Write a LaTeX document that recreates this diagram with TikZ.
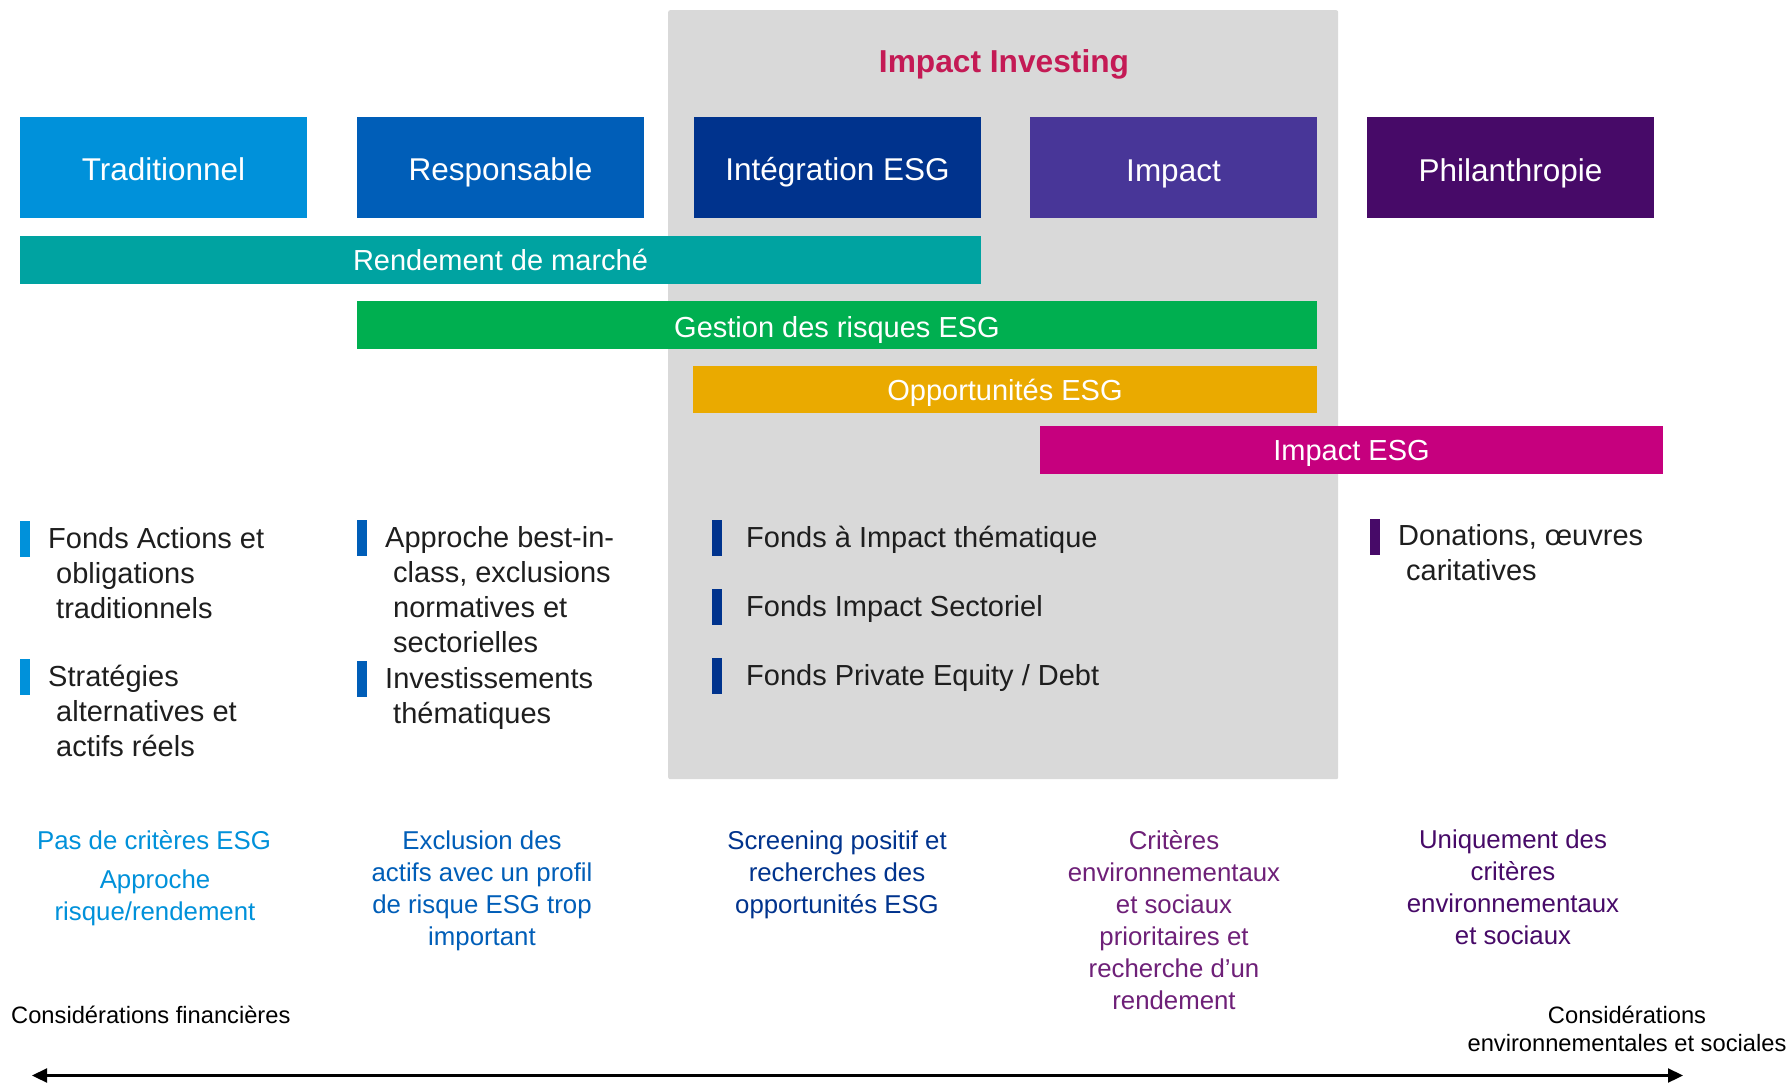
\documentclass[tikz,border=0pt]{standalone}
\usepackage{fontspec}
\setmainfont{Liberation Sans}
\usetikzlibrary{arrows.meta}
\definecolor{cTrad}{HTML}{0091DA}
\definecolor{cResp}{HTML}{005EB8}
\definecolor{cInteg}{HTML}{00338D}
\definecolor{cImpact}{HTML}{483698}
\definecolor{cPhil}{HTML}{470A68}
\definecolor{cRend}{HTML}{00A3A1}
\definecolor{cGest}{HTML}{00AF50}
\definecolor{cOpp}{HTML}{EAAA00}
\definecolor{cImpESG}{HTML}{C6007E}
\definecolor{cTitle}{HTML}{C41A55}
\definecolor{cPanel}{HTML}{D9D9D9}
\definecolor{cCrit}{HTML}{6E2078}
\definecolor{cTxt}{HTML}{1E1E1E}
\begin{document}
\begin{tikzpicture}[x=1pt,y=-1pt,
  catbox/.style={minimum width=287pt, minimum height=101pt, inner sep=0pt, text=white,
    font=\fontsize{31.5}{36}\selectfont, text height=27pt, text depth=0pt},
  bar/.style={minimum height=48pt, inner sep=0pt, text=white,
    font=\fontsize{29}{34}\selectfont, text height=20.8pt, text depth=0pt},
  bul/.style={minimum width=10pt, minimum height=36pt, inner sep=0pt},
  item/.style={anchor=base west, inner sep=0pt, text=cTxt, font=\fontsize{29}{35}\selectfont},
  crit/.style={anchor=base, inner sep=0pt, font=\fontsize{25.8}{32}\selectfont},
  axis/.style={anchor=base, inner sep=0pt, text=black, font=\fontsize{23.7}{28}\selectfont}
]
\useasboundingbox (0,0) rectangle (1791,1083);
\fill[white] (0,0) rectangle (1791,1083);

% panel
\node[fill=cPanel, anchor=north west, minimum width=670pt, minimum height=769pt, inner sep=0pt, rounded corners=2pt] (panel) at (668,10) {};
\node[anchor=base, inner sep=0pt, text=cTitle, font=\fontsize{31.7}{36}\selectfont\bfseries] (title) at (1004,72.5) {Impact Investing};

% category boxes
\node[catbox, fill=cTrad]   (trad)   at (163.5,167.5) {Traditionnel};
\node[catbox, fill=cResp]   (resp)   at (500.5,167.5) {Responsable};
\node[catbox, fill=cInteg]  (integ)  at (837.5,167.5) {Intégration ESG};
\node[catbox, fill=cImpact] (impact) at (1173.5,168) {Impact};
\node[catbox, fill=cPhil]   (phil)   at (1510.5,168) {Philanthropie};

% bars
\node[bar, fill=cRend,   minimum width=961pt] (rend)   at (500.5,260) {Rendement de marché};
\node[bar, fill=cGest,   minimum width=960pt, text height=24.5pt] (gest) at (837,325) {Gestion des risques ESG};
\node[bar, fill=cOpp,    minimum width=624pt, minimum height=47pt, text height=22.5pt] (opp) at (1005,389.5) {Opportunités ESG};
\node[bar, fill=cImpESG, minimum width=623pt] (impesg) at (1351.5,450) {Impact ESG};

% bullets
\node[bul, fill=cTrad] (bt1) at (25,539) {};
\node[item] (t1) at (56,548) {\begin{tabular}[t]{@{}l@{}}\hspace*{-8pt}Fonds Actions et\\obligations\\traditionnels\end{tabular}};
\node[bul, fill=cTrad] (bt2) at (25,677) {};
\node[item] (t2) at (56,686) {\begin{tabular}[t]{@{}l@{}}\hspace*{-8pt}Stratégies\\alternatives et\\actifs réels\end{tabular}};

\node[bul, fill=cResp] (br1) at (362,538) {};
\node[item] (r1) at (393,547) {\begin{tabular}[t]{@{}l@{}}\hspace*{-8pt}Approche best-in-\\class, exclusions\\normatives et\\sectorielles\end{tabular}};
\node[bul, fill=cResp] (br2) at (362,679) {};
\node[item] (r2) at (393,688) {\begin{tabular}[t]{@{}l@{}}\hspace*{-8pt}Investissements\\thématiques\end{tabular}};

\node[bul, fill=cInteg] (bi1) at (717,538) {};
\node[item] (i1) at (746,547) {Fonds à Impact thématique};
\node[bul, fill=cInteg] (bi2) at (717,607) {};
\node[item] (i2) at (746,616) {Fonds Impact Sectoriel};
\node[bul, fill=cInteg] (bi3) at (717,676) {};
\node[item] (i3) at (746,685) {Fonds Private Equity / Debt};

\node[bul, fill=cPhil] (bp1) at (1375,536.5) {};
\node[item] (p1) at (1406,545) {\begin{tabular}[t]{@{}l@{}}\hspace*{-8pt}Donations, œuvres\\caritatives\end{tabular}};

% criteria
\node[crit, text=cTrad] (c1a) at (154,849) {Pas de critères ESG};
\node[crit, text=cTrad] (c1b) at (155,888) {\begin{tabular}[t]{@{}c@{}}Approche\\risque/rendement\end{tabular}};
\node[crit, text=cResp] (c2) at (482,849) {\begin{tabular}[t]{@{}c@{}}Exclusion des\\actifs avec un profil\\de risque ESG trop\\important\end{tabular}};
\node[crit, text=cInteg] (c3) at (837,849) {\begin{tabular}[t]{@{}c@{}}Screening positif et\\recherches des\\opportunités ESG\end{tabular}};
\node[crit, text=cCrit] (c4) at (1174,849) {\begin{tabular}[t]{@{}c@{}}Critères\\environnementaux\\et sociaux\\prioritaires et\\recherche d’un\\rendement\end{tabular}};
\node[crit, text=cPhil] (c5) at (1513,848) {\begin{tabular}[t]{@{}c@{}}Uniquement des\\critères\\environnementaux\\et sociaux\end{tabular}};

% axis
\node[axis, anchor=base west] (finL) at (11,1023) {Considérations financières};
\node[axis] (envR) at (1627,1023) {\begin{tabular}[t]{@{}c@{}}Considérations\\environnementales et sociales\end{tabular}};
\coordinate (aL) at (32,1075.5);
\coordinate (aR) at (1683,1075.5);
\draw[{Triangle[length=15pt,width=14pt]}-{Triangle[length=15pt,width=14pt]}, line width=2.2pt] (aL) -- (aR);
\end{tikzpicture}
\end{document}
